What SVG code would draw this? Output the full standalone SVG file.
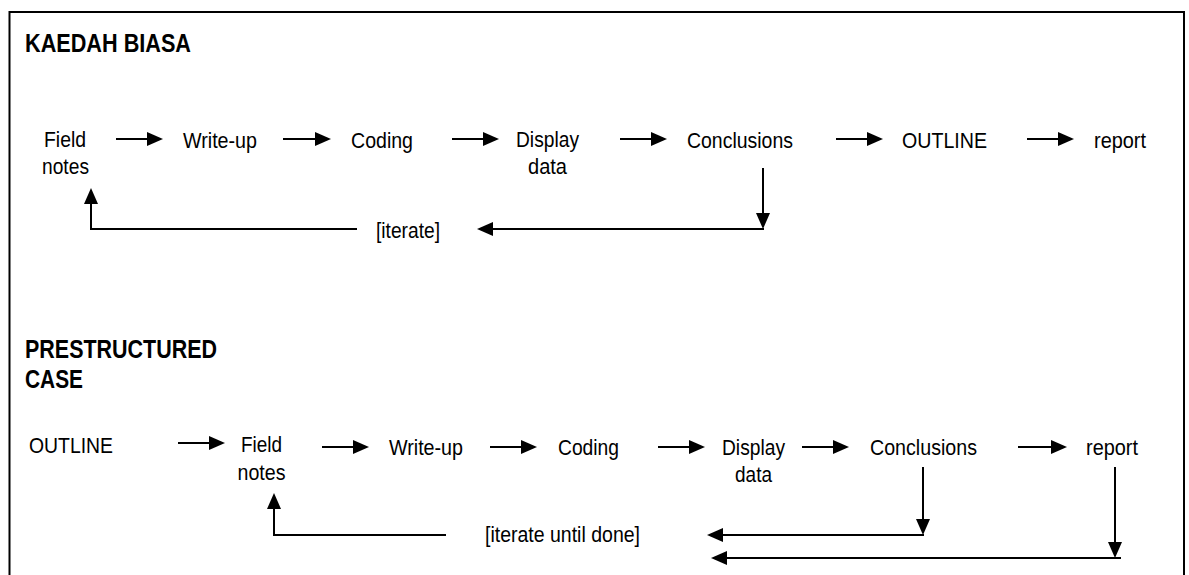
<svg xmlns="http://www.w3.org/2000/svg" width="1189" height="575" viewBox="0 0 1189 575">
<style>
text{font-family:"Liberation Sans",Arial,sans-serif;font-size:22.5px;fill:#000}
.h{font-weight:bold;font-size:25px}
.ln{fill:none;stroke:#000;stroke-width:2;stroke-linecap:butt;stroke-linejoin:miter}
.fr{fill:none;stroke:#000;stroke-width:2}
</style>
<defs>
<marker id="ah" markerUnits="userSpaceOnUse" markerWidth="16" markerHeight="14" refX="12" refY="7" orient="auto">
<path d="M0,0 L16,7 L0,14 z" fill="#000"/>
</marker>
</defs>
<rect width="1189" height="575" fill="#fff"/>
<path class="fr" d="M9.5,575 V12 H1184 V575"/>

<g id="title1"><text class="h" x="25" y="52" textLength="166" lengthAdjust="spacingAndGlyphs">KAEDAH BIASA</text></g>
<g id="r1-field"><text x="44" y="147" textLength="42" lengthAdjust="spacingAndGlyphs">Field</text><text x="42" y="174" textLength="47" lengthAdjust="spacingAndGlyphs">notes</text></g>
<g id="r1-writeup"><text x="183" y="148" textLength="74" lengthAdjust="spacingAndGlyphs">Write-up</text></g>
<g id="r1-coding"><text x="351" y="148" textLength="62" lengthAdjust="spacingAndGlyphs">Coding</text></g>
<g id="r1-display"><text x="516" y="147" textLength="63" lengthAdjust="spacingAndGlyphs">Display</text><text x="528" y="174" textLength="39" lengthAdjust="spacingAndGlyphs">data</text></g>
<g id="r1-conclusions"><text x="687" y="148" textLength="106" lengthAdjust="spacingAndGlyphs">Conclusions</text></g>
<g id="r1-outline"><text x="902" y="148" textLength="85" lengthAdjust="spacingAndGlyphs">OUTLINE</text></g>
<g id="r1-report"><text x="1094" y="148" textLength="52" lengthAdjust="spacingAndGlyphs">report</text></g>
<g id="r1-iterate"><text x="376" y="238" textLength="64" lengthAdjust="spacingAndGlyphs">[iterate]</text></g>

<g id="title2"><text class="h" x="25" y="358" textLength="192" lengthAdjust="spacingAndGlyphs">PRESTRUCTURED</text><text class="h" x="25" y="388" textLength="58" lengthAdjust="spacingAndGlyphs">CASE</text></g>
<g id="r2-outline"><text x="29" y="453" textLength="84" lengthAdjust="spacingAndGlyphs">OUTLINE</text></g>
<g id="r2-field"><text x="241" y="452" textLength="41" lengthAdjust="spacingAndGlyphs">Field</text><text x="237.5" y="480" textLength="48" lengthAdjust="spacingAndGlyphs">notes</text></g>
<g id="r2-writeup"><text x="389" y="455" textLength="74" lengthAdjust="spacingAndGlyphs">Write-up</text></g>
<g id="r2-coding"><text x="558" y="455" textLength="61" lengthAdjust="spacingAndGlyphs">Coding</text></g>
<g id="r2-display"><text x="722" y="455" textLength="63" lengthAdjust="spacingAndGlyphs">Display</text><text x="735" y="482" textLength="37" lengthAdjust="spacingAndGlyphs">data</text></g>
<g id="r2-conclusions"><text x="870" y="455" textLength="107" lengthAdjust="spacingAndGlyphs">Conclusions</text></g>
<g id="r2-report"><text x="1086" y="455" textLength="52" lengthAdjust="spacingAndGlyphs">report</text></g>
<g id="r2-iterate"><text x="485" y="542" textLength="155" lengthAdjust="spacingAndGlyphs">[iterate until done]</text></g>

<g id="connectors">
<path class="ln" marker-end="url(#ah)" d="M116,139 H159"/>
<path class="ln" marker-end="url(#ah)" d="M283,139 H327"/>
<path class="ln" marker-end="url(#ah)" d="M452,139 H495"/>
<path class="ln" marker-end="url(#ah)" d="M620,139 H663"/>
<path class="ln" marker-end="url(#ah)" d="M836,139 H879"/>
<path class="ln" marker-end="url(#ah)" d="M1027,139 H1070"/>
<path class="ln" marker-end="url(#ah)" d="M763,168 V225"/>
<path class="ln" marker-end="url(#ah)" d="M764,229 H481"/>
<path class="ln" marker-end="url(#ah)" d="M357,229 H91 V192"/>

<path class="ln" marker-end="url(#ah)" d="M178,443 H221"/>
<path class="ln" marker-end="url(#ah)" d="M322,447 H365"/>
<path class="ln" marker-end="url(#ah)" d="M490,447 H533"/>
<path class="ln" marker-end="url(#ah)" d="M658,447 H701"/>
<path class="ln" marker-end="url(#ah)" d="M802,447 H845"/>
<path class="ln" marker-end="url(#ah)" d="M1018,447 H1063"/>
<path class="ln" marker-end="url(#ah)" d="M923,467 V531"/>
<path class="ln" marker-end="url(#ah)" d="M924,535 H711"/>
<path class="ln" marker-end="url(#ah)" d="M1115,467 V554"/>
<path class="ln" marker-end="url(#ah)" d="M1121,558 H715"/>
<path class="ln" marker-end="url(#ah)" d="M446,535 H274 V497"/>
</g>
</svg>
